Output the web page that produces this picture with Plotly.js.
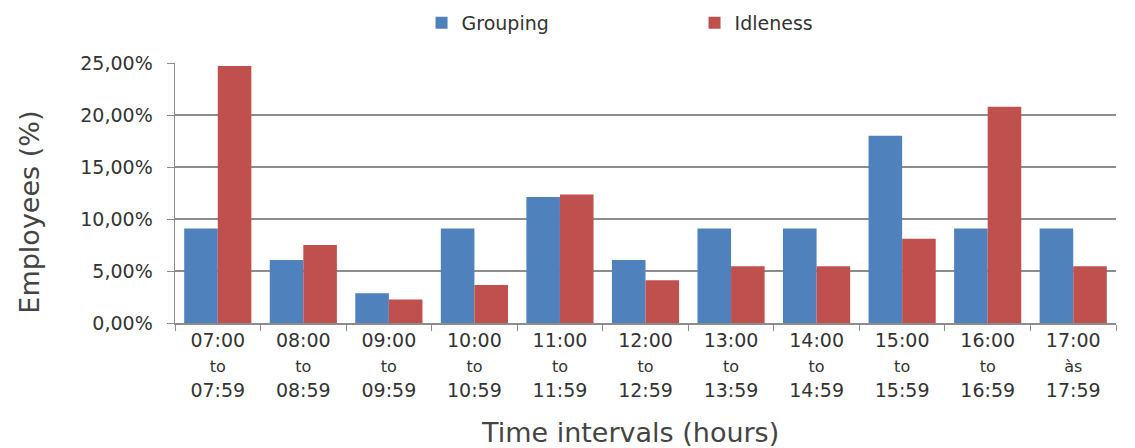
<!DOCTYPE html>
<html>
<head>
<meta charset="utf-8">
<script src="https://cdn.plot.ly/plotly-3.0.1.min.js"></script>
<style>html,body{margin:0;padding:0;background:#fff;}#chart{width:1135px;height:448px;}</style>
</head>
<body>
<div id="chart"></div>
<script>
const categories = ["07:00|to|07:59","08:00|to|08:59","09:00|to|09:59","10:00|to|10:59","11:00|to|11:59","12:00|to|12:59","13:00|to|13:59","14:00|to|14:59","15:00|to|15:59","16:00|to|16:59","17:00|às|17:59"];
const grouping = [9.09, 6.06, 2.86, 9.09, 12.12, 6.06, 9.09, 9.09, 18.0, 9.09, 9.09];
const idleness = [24.7, 7.5, 2.25, 3.65, 12.35, 4.1, 5.45, 5.45, 8.1, 20.8, 5.45];
const yTicks = [0, 5, 10, 15, 20, 25];
const yTickLabels = ["0,00%", "5,00%", "10,00%", "15,00%", "20,00%", "25,00%"];

const tickText = categories.map(c => {
  const p = c.split("|");
  return p[0] + "<br><span style='font-size:16px'>" + p[1] + "</span><br>" + p[2];
});

const traces = [
  {type: "bar", name: "Grouping", x: categories, y: grouping, marker: {color: "#4F81BD"}},
  {type: "bar", name: "Idleness", x: categories, y: idleness, marker: {color: "#C0504D"}}
];

const layout = {
  width: 1135, height: 448,
  margin: {l: 175, r: 19, t: 63, b: 125},
  paper_bgcolor: "#fff", plot_bgcolor: "#fff",
  font: {family: "DejaVu Sans", color: "#333"},
  barmode: "group", bargap: 0.215, bargroupgap: 0,
  showlegend: true,
  legend: {orientation: "h", x: 0.262, xanchor: "left", y: 0.949, yanchor: "middle", yref: "container",
           font: {size: 19, color: "#333"}, entrywidth: 228, entrywidthmode: "pixels",
           traceorder: "normal"},
  xaxis: {
    type: "category", tickmode: "array", tickvals: categories, ticktext: tickText,
    tickfont: {size: 19, color: "#333"}, showline: true, linecolor: "#8c8c8c", linewidth: 1.5,
    ticks: "outside", tickson: "boundaries", ticklen: 6, tickcolor: "#8c8c8c", tickwidth: 1,
    showgrid: false, automargin: false
  },
  yaxis: {
    range: [0, 25], tickmode: "array", tickvals: yTicks, ticktext: yTickLabels,
    tickfont: {size: 19, color: "#333"}, showline: true, linecolor: "#8c8c8c", linewidth: 1.5,
    ticks: "outside", ticklen: 7, tickcolor: "#8c8c8c", ticklabelstandoff: 10,
    showgrid: true, gridcolor: "#8c8c8c", gridwidth: 1.5, zeroline: false, automargin: false
  },
  annotations: [
    {text: "Employees (%)", xref: "paper", yref: "paper", x: -0.155, y: 0.425, xanchor: "center", yanchor: "middle",
     textangle: -90, showarrow: false, font: {size: 27, color: "#444"}},
    {text: "Time intervals (hours)", xref: "paper", yref: "paper", x: 0.483, y: -0.42, xanchor: "center", yanchor: "middle",
     showarrow: false, font: {size: 27, color: "#444"}}
  ]
};

Plotly.newPlot("chart", traces, layout, {displayModeBar: false, staticPlot: true});
</script>
</body>
</html>
